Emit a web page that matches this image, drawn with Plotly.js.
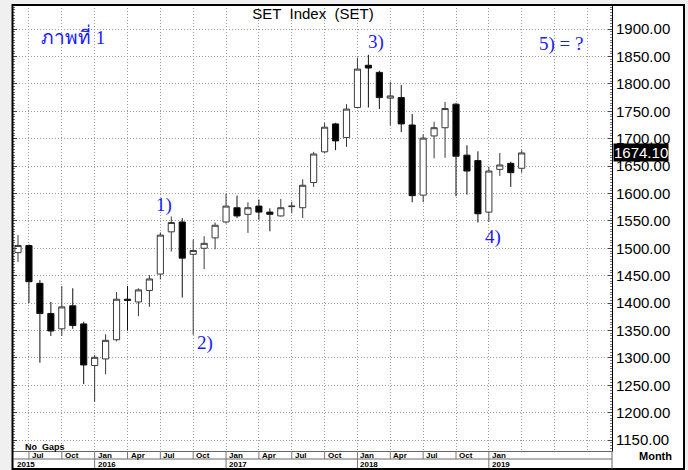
<!DOCTYPE html>
<html><head><meta charset="utf-8">
<script src="https://cdn.plot.ly/plotly-3.0.1.min.js"></script>
<style>html,body{margin:0;padding:0;background:#fff}#chart{width:688px;height:470px}</style>
</head><body><div id="chart"></div>
<script>
// ---- data (monthly candles, SET Index) ----
const months = ['2015-06','2015-07','2015-08','2015-09','2015-10','2015-11','2015-12',
  '2016-01','2016-02','2016-03','2016-04','2016-05','2016-06','2016-07','2016-08','2016-09','2016-10','2016-11','2016-12',
  '2017-01','2017-02','2017-03','2017-04','2017-05','2017-06','2017-07','2017-08','2017-09','2017-10','2017-11','2017-12',
  '2018-01','2018-02','2018-03','2018-04','2018-05','2018-06','2018-07','2018-08','2018-09','2018-10','2018-11','2018-12',
  '2019-01','2019-02','2019-03','2019-04'];
const openV  = [1492,1505,1436,1381,1353,1395,1362, 1286,1298,1333,1407,1402,1423,1453,1530,1548,1489,1500,1519,
  1548,1574,1562,1577,1566,1559,1576,1574,1620,1676,1727,1702, 1757,1834,1821,1774,1775,1725,1597,1705,1720,1763,1670,1660,
  1566,1644,1655,1646];
const highV  = [1524,1507,1442,1402,1431,1427,1366, 1305,1343,1420,1431,1427,1451,1529,1558,1555,1516,1522,1547,
  1600,1596,1584,1589,1573,1590,1585,1626,1676,1729,1729,1763, 1848,1853,1824,1804,1798,1745,1708,1731,1767,1765,1688,1677,
  1649,1674,1658,1679];
const lowV   = [1475,1400,1291,1340,1340,1353,1252, 1220,1270,1330,1350,1376,1393,1443,1494,1410,1342,1462,1498,
  1545,1555,1528,1552,1531,1558,1564,1555,1612,1673,1679,1685, 1755,1757,1754,1724,1712,1584,1584,1664,1665,1595,1598,1547,
  1548,1632,1612,1638];
const closeV = [1505,1439,1381,1349,1393,1359,1287, 1301,1332,1407,1405,1424,1444,1524,1547,1482,1496,1509,1542,
  1577,1559,1574,1566,1562,1574,1577,1615,1672,1721,1696,1754, 1827,1829,1775,1778,1727,1596,1701,1720,1755,1668,1641,1563,
  1641,1652,1638,1674];
const lastPrice = 1674.10;
const axisMonths = ['2015-07','2015-10','2016-01','2016-04','2016-07','2016-10','2017-01','2017-04','2017-07','2017-10',
  '2018-01','2018-04','2018-07','2018-10','2019-01'];
const gridMonths = ['2019-04','2019-07','2019-10'];
const monthNames = {'01':'Jan','04':'Apr','07':'Jul','10':'Oct'};
const yearLabels = ['2015','2016','2017','2018','2019'];

// ---- helpers ----
const mIdx = s => (parseInt(s.slice(0,4))-2015)*12 + (parseInt(s.slice(5,7))-6);
const L=13, R=612, T=5, B=451;
const px = p => (p-L)/(R-L);
const py = p => (B-p)/(B-T);
const BLUE = '#1a1aff';
const SANS = 'Liberation Sans, Arial, sans-serif';
const SERIF = 'Liberation Serif, Times New Roman, serif';

const xs = months.map(mIdx);
const trace = {
  type:'candlestick', x: xs, open: openV, high: highV, low: lowV, close: closeV,
  increasing:{line:{color:'#3a3a3a', width:1}, fillcolor:'#ffffff'},
  decreasing:{line:{color:'#111111', width:1}, fillcolor:'#000000'},
  whiskerwidth:0, hoverinfo:'skip', showlegend:false
};

const shapes = [];
const annotations = [];
// outer gray margins
const gray = '#f0f0f0';
shapes.push({type:'rect', xref:'paper', yref:'paper', x0:px(0), x1:px(11.5), y0:py(470), y1:py(0), fillcolor:gray, line:{width:0}});
shapes.push({type:'rect', xref:'paper', yref:'paper', x0:px(0), x1:px(688), y0:py(4), y1:py(0), fillcolor:gray, line:{width:0}});
shapes.push({type:'rect', xref:'paper', yref:'paper', x0:px(685), x1:px(688), y0:py(470), y1:py(0), fillcolor:gray, line:{width:0}});
// frame
shapes.push({type:'rect', xref:'paper', yref:'paper', x0:px(12.5), x1:px(684), y0:py(469), y1:py(5), line:{color:'#000', width:2}});
// bottom band
shapes.push({type:'line', xref:'paper', yref:'paper', x0:px(L), x1:px(R), y0:py(459), y1:py(459), line:{color:'#666', width:1}});
shapes.push({type:'line', xref:'paper', yref:'paper', x0:px(R), x1:px(R), y0:py(B), y1:py(469), line:{color:'#666', width:1}});
axisMonths.forEach(m => {
  const isJan = m.slice(5,7)==='01';
  shapes.push({type:'line', xref:'x', yref:'paper', x0:mIdx(m), x1:mIdx(m), y0:py(B), y1:py(isJan?468:459), line:{color:'#777', width:1}});
  annotations.push({xref:'x', yref:'paper', x:mIdx(m), y:py(455.3), xanchor:'left', yanchor:'middle', xshift:1, showarrow:false,
    text:'<b>'+monthNames[m.slice(5,7)]+'</b>', font:{family:SANS, size:8, color:'#000'}});
});
yearLabels.forEach((yr,i) => {
  const a = {yref:'paper', y:py(464), xanchor:'left', yanchor:'middle', showarrow:false,
    text:'<b>'+yr+'</b>', font:{family:SANS, size:8, color:'#000'}};
  if (i===0) { a.xref='paper'; a.x=px(15); } else { a.xref='x'; a.x=mIdx(yr+'-01'); a.xshift=1; }
  annotations.push(a);
});
annotations.push({xref:'paper', yref:'paper', x:px(23), y:py(446.5), xanchor:'left', yanchor:'middle', showarrow:false,
  text:'<b>No  Gaps</b>', font:{family:SANS, size:9, color:'#000'}});
annotations.push({xref:'paper', yref:'paper', x:px(655), y:py(456), xanchor:'center', yanchor:'middle', showarrow:false,
  text:'<b>Month</b>', font:{family:SANS, size:11, color:'#000'}});
// last price box
annotations.push({xref:'paper', yref:'y', x:px(613), y:lastPrice, xanchor:'left', yanchor:'middle', showarrow:false,
  text:lastPrice.toFixed(2), bgcolor:'#000', borderpad:0, font:{family:SANS, size:15, color:'#fff'}});
// blue notes
const notes = [
  ['ภาพที่ 1', 73, 36],
  ['1)', 164, 205],
  ['2)', 205, 343],
  ['3)', 376, 42],
  ['4)', 493, 237],
  ['5) = ?', 561, 44]
];
notes.forEach(n => annotations.push({xref:'paper', yref:'paper', x:px(n[1]), y:py(n[2]), xanchor:'center', yanchor:'middle',
  showarrow:false, text:n[0], font:{family:SERIF, size:19, color:BLUE}}));

const allGrid = axisMonths.concat(gridMonths).map(mIdx);
const layout = {
  width:688, height:470,
  margin:{l:L, r:688-R, t:T, b:470-B, pad:0},
  paper_bgcolor:'#ffffff', plot_bgcolor:'#ffffff',
  title:{text:'SET  Index  (SET)', x:313/688, y:1-14/470, xref:'container', yref:'container', xanchor:'center', yanchor:'middle',
    font:{family:SANS, size:15, color:'#000'}},
  boxgap:0.25, boxgroupgap:0.25,
  xaxis:{type:'linear', range:[(L-18)/10.95, (R-18)/10.95], tickvals:allGrid, showticklabels:false, ticks:'',
    showgrid:true, gridcolor:'#9a9a9a', griddash:'1px,2px', gridwidth:1, zeroline:false,
    showline:true, linecolor:'#666', linewidth:1, rangeslider:{visible:false}, fixedrange:true},
  yaxis:{side:'right', range:[1130,1944], dtick:50, tick0:1150, tickformat:'.2f',
    showgrid:true, gridcolor:'#9a9a9a', griddash:'1px,2px', gridwidth:1, zeroline:false,
    showline:true, linecolor:'#000', linewidth:1, mirror:'ticks', ticks:'inside', ticklen:4, tickcolor:'#444',
    minor:{dtick:5, ticks:'inside', ticklen:2, tickcolor:'#777', showgrid:false},
    tickfont:{family:SANS, size:15, color:'#000'}, fixedrange:true},
  shapes:shapes, annotations:annotations, showlegend:false
};
Plotly.newPlot('chart', [trace], layout, {staticPlot:true, displayModeBar:false});
</script></body></html>
